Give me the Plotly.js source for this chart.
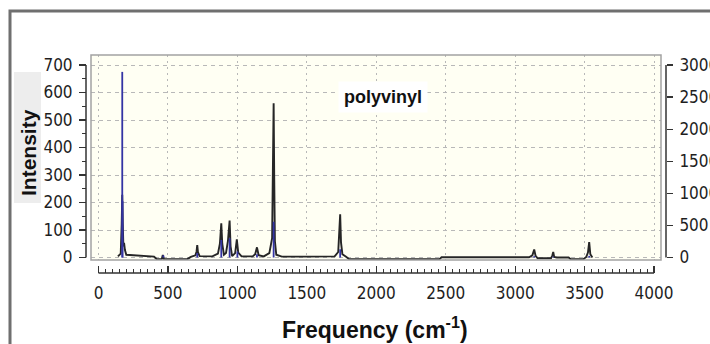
<!DOCTYPE html>
<html>
<head>
<meta charset="utf-8">
<script src="https://cdn.plot.ly/plotly-3.0.1.min.js"></script>
<style>
  html, body { margin: 0; padding: 0; background: #ffffff; }
  #chart { width: 710px; height: 344px; }
</style>
</head>
<body>
<div id="chart"></div>
<script>
// Broadened IR spectrum of polyvinyl: frequency (cm-1) and intensity
const specFreq = [140, 160, 167, 171, 175, 179, 184, 190, 200, 260, 400, 420, 455, 463, 471, 640, 665,
  698, 706, 711, 716, 728, 820, 860, 874, 884, 891, 903, 918, 932, 944, 951, 962, 984, 996, 1006,
  1030, 1110, 1128, 1141, 1153, 1190, 1230, 1250, 1257, 1261, 1265, 1270, 1280, 1320, 1500, 1700,
  1726, 1734, 1740, 1746, 1756, 1785, 1805, 2455, 2470, 3100, 3124, 3137, 3147, 3162, 3258, 3268,
  3274, 3281, 3300, 3385, 3400, 3490, 3512, 3524, 3533, 3541, 3556];
const specInt = [4, 14, 120, 228, 120, 40, 53, 28, 10, 8, 3, -6, -6, 9, -6, -6, 2,
  8, 22, 45, 20, 5, 4, 14, 50, 124, 50, 10, 16, 60, 134, 40, 5, 16, 66, 18,
  4, 4, 12, 37, 8, 4, 16, 70, 336, 561, 300, 60, 10, 3, 3, 4,
  20, 82, 157, 55, 12, 2, -6, -6, 1, 1, 8, 29, 6, -3, -3, 8,
  20, 2, 0, 0, -6, -6, 2, 18, 56, 12, 0];

// Individual vibrational modes, drawn as sticks
const modeFreq = [171, 173, 467, 711, 884, 944, 1000, 1141, 1261, 1740, 3137, 3274, 3533];
const modeInt  = [675, 205, 8, 16, 64, 70, 22, 12, 130, 30, 5, 3, 6];

// Axis ticks
const xTicks  = [0, 500, 1000, 1500, 2000, 2500, 3000, 3500, 4000];
const yTicks  = [0, 100, 200, 300, 400, 500, 600, 700];
const y2Ticks = [0, 500, 1000, 1500, 2000, 2500, 3000];

// Stick segments: one vertical segment per mode, separated by gaps
const stickX = [], stickY = [];
modeFreq.forEach((f, i) => {
  stickX.push(f, f, null);
  stickY.push(0, modeInt[i], null);
});

// Minor ticks along the frequency axis, between the labelled ones
const xMinor = [];
for (let v = 50; v < 4000; v += 50) if (v % 500 !== 0) xMinor.push(v);

// Page geometry (pixels) converted to paper fractions
const W = 710, H = 344, ML = 86, MR = 44, MT = 55, MB = 71;
const PW = W - ML - MR, PH = H - MT - MB;
const px = v => (v - ML) / PW;
const py = v => (H - MB - v) / PH;

const tickFont = { family: '"Liberation Sans Narrow", "DejaVu Sans Condensed", "Liberation Sans", Arial, sans-serif', size: 17, color: '#1e1e1e' };
const boldFont = { family: '"Liberation Sans", Arial, sans-serif', color: '#111111', weight: 'bold' };

const traces = [
  {
    x: specFreq, y: specInt, type: 'scatter', mode: 'lines',
    line: { color: '#262626', width: 1.9 },
    hoverinfo: 'skip', showlegend: false
  },
  {
    x: stickX, y: stickY, type: 'scatter', mode: 'lines',
    line: { color: '#3434a4', width: 1.8 },
    connectgaps: false, hoverinfo: 'skip', showlegend: false
  },
  {
    // empty trace that carries the secondary intensity scale
    x: [null], y: [null], yaxis: 'y2', type: 'scatter', mode: 'lines',
    hoverinfo: 'skip', showlegend: false
  }
];

const layout = {
  width: W, height: H,
  margin: { l: ML, r: MR, t: MT, b: MB, pad: 0 },
  paper_bgcolor: '#ffffff',
  plot_bgcolor: '#fffff3',
  showlegend: false,
  xaxis: {
    domain: [px(91), px(661)],
    range: [-54, 4050],
    anchor: 'free', position: 0,
    tickmode: 'array', tickvals: xTicks,
    ticks: 'inside', ticklen: 7, tickwidth: 1.2, tickcolor: '#333333',
    minor: { tickmode: 'array', tickvals: xMinor, ticks: 'inside', ticklen: 4, tickwidth: 1, tickcolor: '#333333', showgrid: false },
    showline: false, zeroline: false,
    showgrid: true, gridcolor: '#b8b8b8', gridwidth: 1, griddash: '2px,4px',
    tickfont: tickFont, ticklabelstandoff: 8
  },
  yaxis: {
    domain: [py(260), 1],
    range: [-9.1, 736.4],
    anchor: 'free', position: 0,
    tickmode: 'array', tickvals: yTicks,
    ticks: 'outside', ticklen: 7, tickwidth: 1.2, tickcolor: '#333333',
    minor: { dtick: 50, tick0: 0, ticks: 'outside', ticklen: 4, tickwidth: 1, tickcolor: '#333333', showgrid: false },
    showline: false, zeroline: false,
    showgrid: true, gridcolor: '#b8b8b8', gridwidth: 1, griddash: '4px,4px',
    tickfont: tickFont, ticklabelstandoff: 3
  },
  yaxis2: {
    overlaying: 'y', side: 'right',
    anchor: 'free', position: 1,
    range: [-39, 3156],
    tickmode: 'array', tickvals: y2Ticks,
    ticks: 'outside', ticklen: 6, tickwidth: 1.2, tickcolor: '#333333',
    showline: false, zeroline: false, showgrid: false,
    tickfont: tickFont, ticklabelstandoff: 3
  },
  shapes: [
    // outer window frame
    { type: 'rect', xref: 'paper', yref: 'paper', x0: px(10), x1: px(900), y0: py(600), y1: py(11),
      line: { color: '#6f6f6f', width: 3 }, fillcolor: 'rgba(0,0,0,0)', layer: 'below' },
    // shaded strip behind the intensity title
    { type: 'rect', xref: 'paper', yref: 'paper', x0: px(14), x1: px(41), y0: py(203), y1: py(72),
      line: { width: 0 }, fillcolor: '#ededed', layer: 'below' },
    // plot frame
    { type: 'rect', xref: 'paper', yref: 'paper', x0: px(91), x1: px(661), y0: py(260), y1: 1,
      line: { color: '#a2a2a2', width: 1.5 }, fillcolor: 'rgba(0,0,0,0)', layer: 'above' },
    // axis lines spanning the labelled ranges
    { type: 'line', xref: 'paper', yref: 'y', x0: 0, x1: 0, y0: 0, y1: 700,
      line: { color: '#333333', width: 1.5 } },
    { type: 'line', xref: 'paper', yref: 'y2', x0: 1, x1: 1, y0: 0, y1: 3000,
      line: { color: '#333333', width: 1.5 } },
    { type: 'line', xref: 'x', yref: 'paper', x0: 0, x1: 4000, y0: 0, y1: 0,
      line: { color: '#333333', width: 1.5 } }
  ],
  annotations: [
    { text: 'polyvinyl', xref: 'x', yref: 'y', x: 2050, y: 583, showarrow: false,
      font: Object.assign({}, boldFont, { size: 18 }), bgcolor: '#ffffff', borderpad: 5 },
    { text: 'Intensity', xref: 'paper', yref: 'paper', x: px(28), y: py(153), textangle: -90,
      showarrow: false, xanchor: 'center', yanchor: 'middle',
      font: Object.assign({}, boldFont, { size: 21 }) },
    { text: 'Frequency (cm<sup>-1</sup>)', xref: 'paper', yref: 'paper', x: px(375), y: py(328),
      showarrow: false, xanchor: 'center', yanchor: 'middle',
      font: Object.assign({}, boldFont, { size: 23 }) }
  ]
};

Plotly.newPlot('chart', traces, layout, { displayModeBar: false, staticPlot: true });
</script>
</body>
</html>
